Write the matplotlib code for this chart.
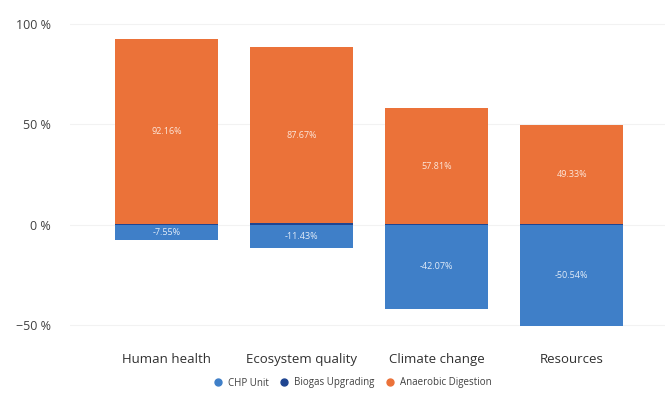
import numpy as np
import matplotlib.pyplot as plt
from matplotlib.lines import Line2D

categories = ["Human health", "Ecosystem quality", "Climate change", "Resources"]
chp_unit = [-7.55, -11.43, -42.07, -50.54]
biogas_upgrading = [0.29, 0.76, 0.12, 0.11]
anaerobic_digestion = [92.16, 87.67, 57.81, 49.33]
y_ticks = [-50, 0, 50, 100]
y_labels = ["\u221250 %", "0 %", "50 %", "100 %"]

c_chp = "#3F7FC8"
c_bio = "#1F4591"
c_ad = "#EB7239"

plt.rcParams['font.family'] = ['Open Sans', 'DejaVu Sans']

fig = plt.figure(figsize=(6.67, 3.93), dpi=100)
ax = fig.add_axes([70 / 667, 48 / 393, 595 / 667, 341 / 393])

x = np.arange(len(categories))
w = 0.765
ax.bar(x, chp_unit, w, color=c_chp, zorder=3)
ax.bar(x, biogas_upgrading, w, color=c_bio, zorder=3)
ax.bar(x, anaerobic_digestion, w, bottom=biogas_upgrading, color=c_ad, zorder=3)

for i in range(len(categories)):
    ax.text(x[i], biogas_upgrading[i] + anaerobic_digestion[i] / 2, f"{anaerobic_digestion[i]:.2f}%",
            ha="center", va="center", color="#FCE6DA", fontsize=6.5, zorder=4)
    ax.text(x[i], chp_unit[i] / 2, f"{chp_unit[i]:.2f}%",
            ha="center", va="center", color="#E2ECF8", fontsize=6.5, zorder=4)

ax.set_xlim(-0.715, 3.69)
ax.set_ylim(-60, 110)
ax.set_yticks(y_ticks)
ax.set_yticklabels(y_labels, fontsize=9, color="#404040")
ax.set_xticks(x)
ax.set_xticklabels(categories, fontsize=9.5, color="#303030")
ax.tick_params(length=0)
ax.tick_params(axis="y", pad=14)
ax.tick_params(axis="x", pad=6)
ax.grid(axis="y", color="#F2F2F2", linewidth=0.8, zorder=0)
for s in ax.spines.values():
    s.set_visible(False)

handles = [Line2D([], [], marker="o", linestyle="", color=c, markersize=5)
           for c in (c_chp, c_bio, c_ad)]
fig.legend(handles, ["CHP Unit", "Biogas Upgrading", "Anaerobic Digestion"],
           loc="center", bbox_to_anchor=(350 / 667, 1 - 383 / 393), ncol=3, frameon=False,
           fontsize=7, handletextpad=0.0, columnspacing=0.6, labelcolor="#404040")

fig.savefig("out.png", dpi=100)
